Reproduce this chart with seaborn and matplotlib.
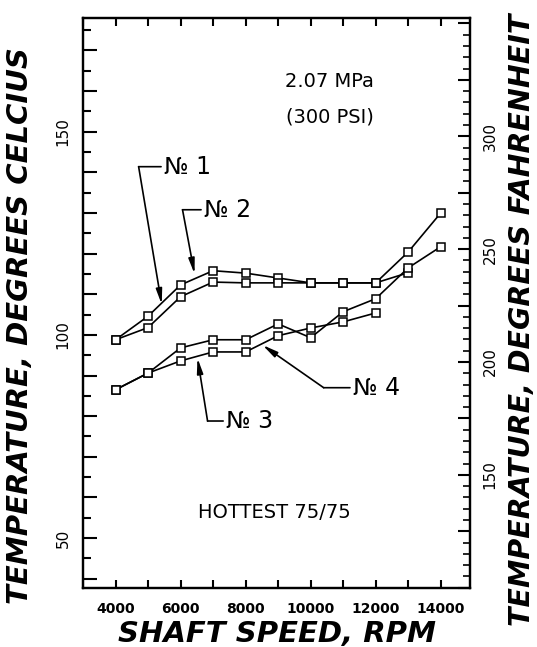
import numpy as np
import pandas as pd
import seaborn as sns
import matplotlib
matplotlib.use('Agg')
import matplotlib.pyplot as plt
from matplotlib.ticker import MultipleLocator, FuncFormatter

# shaft speed (rpm) and bearing temperatures (deg C)
rpm = [4000, 5000, 6000, 7000, 8000, 9000, 10000, 11000, 12000, 13000, 14000]
no1 = [98.8, 104.6, 112.3, 115.8, 115.2, 114.0, 112.8, 112.8, 112.8, 120.4, 130.0]
no2 = [98.8, 101.8, 109.4, 113.0, 112.8, 112.8, 112.8, 112.8, 112.8, 115.3, np.nan]
no3 = [86.5, 90.6, 96.8, 98.8, 98.8, 102.7, 99.3, 105.7, 108.9, 116.5, 121.7]
no4 = [86.5, 90.6, 93.6, 95.8, 95.8, 99.8, 101.7, 103.2, 105.4, np.nan, np.nan]
names = ['№ 1', '№ 2', '№ 3', '№ 4']

# label text position, leader corner, arrow tip (rpm, deg C)
label_text = [(5480, 141.4), (6710, 130.8), (7390, 78.8), (11290, 87.0)]
label_corner = [(4710, 141.4), (6060, 130.8), (6830, 78.8), (10400, 87.0)]
label_tip = [(5420, 107.5), (6430, 115.0), (6520, 94.3), (8520, 97.5)]

rows = []
for name, vals in zip(names, [no1, no2, no3, no4]):
    for r, v in zip(rpm, vals):
        if not np.isnan(v):
            rows.append({'rpm': r, 'temp': v, 'bearing': name})
df = pd.DataFrame(rows)

sns.set_style('white')
plt.rcParams['font.family'] = ['DejaVu Sans']
plt.rcParams['text.color'] = 'black'
plt.rcParams['xtick.color'] = 'black'
plt.rcParams['ytick.color'] = 'black'
plt.rcParams['axes.labelcolor'] = 'black'
plt.rcParams['axes.edgecolor'] = 'black'

fig = plt.figure(figsize=(5.37, 6.47), dpi=100)
ax = fig.add_axes([0.1546, 0.0912, 0.7206, 0.881])

sns.lineplot(data=df, x='rpm', y='temp', hue='bearing', units='bearing',
             estimator=None, palette=['black'] * 4, legend=False, ax=ax,
             marker='s', markersize=6, markerfacecolor='white',
             markeredgecolor='black', markeredgewidth=1.1, linewidth=1.2)

ax.set_xlim(3000, 14900)
ax.set_ylim(37.7, 178)

# ticks
ax.xaxis.set_major_locator(MultipleLocator(2000))
ax.xaxis.set_minor_locator(MultipleLocator(1000))
ax.yaxis.set_major_locator(MultipleLocator(10))
ax.yaxis.set_minor_locator(MultipleLocator(5))
ax.yaxis.set_major_formatter(FuncFormatter(lambda v, p: f'{v:.0f}' if v % 50 == 0 else ''))
ax.tick_params(axis='x', which='both', direction='in', top=True, bottom=True,
               length=6, width=1.5, pad=10)
ax.tick_params(axis='y', which='major', direction='in', left=True, right=False,
               length=10, width=1.5, pad=9)
ax.tick_params(axis='y', which='minor', direction='in', left=True, right=False,
               length=6, width=1.5)
for lab in ax.get_xticklabels():
    lab.set_fontweight('bold')
    lab.set_fontsize(10)
for lab in ax.get_yticklabels():
    lab.set_rotation(90)
    lab.set_va('center')
    lab.set_fontsize(11)
for sp in ax.spines.values():
    sp.set_linewidth(1.6)

# fahrenheit scale on the right
ax2 = ax.twinx()
lo, hi = ax.get_ylim()
ax2.set_ylim(lo * 1.8 + 32, hi * 1.8 + 32)
ax2.yaxis.set_major_locator(MultipleLocator(25))
ax2.yaxis.set_minor_locator(MultipleLocator(5))
ax2.yaxis.set_major_formatter(
    FuncFormatter(lambda v, p: f'{v:.0f}' if v % 50 == 0 and 100 < v < 350 else ''))
ax2.tick_params(axis='y', which='major', direction='in', length=9, width=1.5, pad=9)
ax2.tick_params(axis='y', which='minor', direction='in', length=5, width=1.2)
for lab in ax2.get_yticklabels():
    lab.set_rotation(90)
    lab.set_va('center')
    lab.set_fontsize(11)
for sp in ax2.spines.values():
    sp.set_linewidth(1.6)

ax.set_xlabel('SHAFT SPEED, RPM', fontsize=21, fontweight='bold', style='italic')
ax.xaxis.set_label_coords(0.5, -0.095)
ax.xaxis.label.set_va('baseline')
ax.set_ylabel('TEMPERATURE, DEGREES CELCIUS', fontsize=21, fontweight='bold', style='italic')
ax.yaxis.set_label_coords(-0.163, 0.461)
ax.yaxis.label.set_va('center')
ax2.set_ylabel('TEMPERATURE, DEGREES FAHRENHEIT', fontsize=20.5, fontweight='bold',
               style='italic', rotation=90)
ax2.yaxis.set_label_coords(1.135, 0.47)
ax2.yaxis.label.set_va('center')

# annotations
ax.text(10585, 162.3, '2.07 MPa', fontsize=14, ha='center', va='center')
ax.text(10585, 153.7, '(300 PSI)', fontsize=14, ha='center', va='center')
ax.text(8890, 56.2, 'HOTTEST 75/75', fontsize=14, ha='center', va='center')

for name, t, c, tip in zip(names, label_text, label_corner, label_tip):
    ax.text(t[0], t[1], name, fontsize=17, ha='left', va='center')
    ax.annotate('', xy=c, xytext=(t[0] - 80, t[1]),
                arrowprops=dict(arrowstyle='-', color='black', lw=1.2,
                                shrinkA=0, shrinkB=0))
    ax.annotate('', xy=tip, xytext=c,
                arrowprops=dict(arrowstyle='-|>,head_length=0.9,head_width=0.18',
                                color='black', lw=1.2, shrinkA=0, shrinkB=0))

fig.savefig('out.png', dpi=100)
